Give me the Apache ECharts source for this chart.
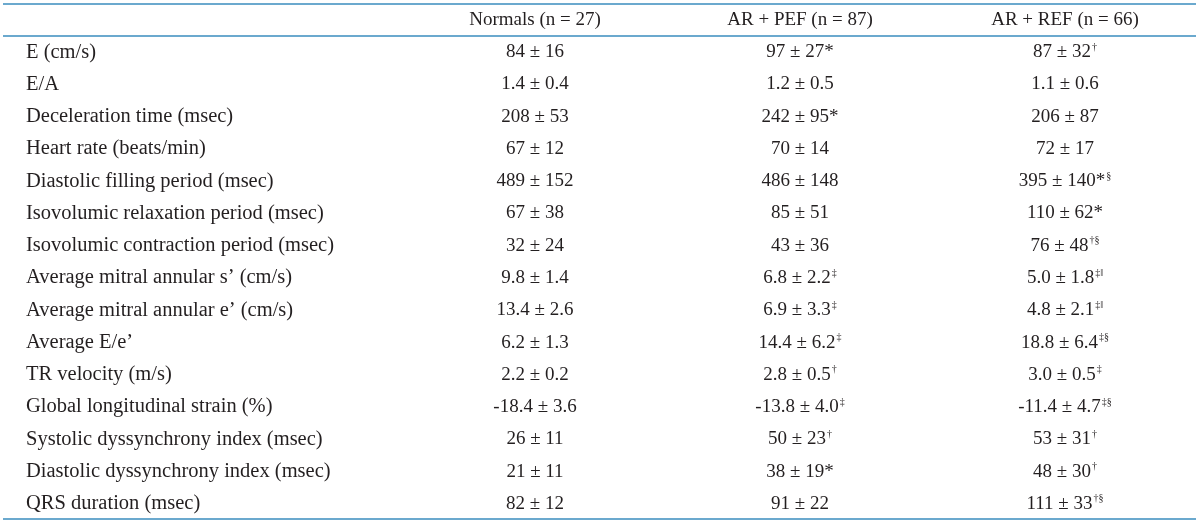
<!DOCTYPE html>
<html>
<head>
<meta charset="utf-8">
<script src="https://cdn.jsdelivr.net/npm/echarts@6/dist/echarts.min.js"></script>
<style>
html,body{margin:0;padding:0;background:#fff;}
#chart{width:1200px;height:526px;}
</style>
</head>
<body>
<div id="chart"></div>
<script>
const headers = ['Normals (n = 27)', 'AR + PEF (n = 87)', 'AR + REF (n = 66)'];
const rowLabels = [
  'E (cm/s)',
  'E/A',
  'Deceleration time (msec)',
  'Heart rate (beats/min)',
  'Diastolic filling period (msec)',
  'Isovolumic relaxation period (msec)',
  'Isovolumic contraction period (msec)',
  'Average mitral annular s\u2019 (cm/s)',
  'Average mitral annular e\u2019 (cm/s)',
  'Average E/e\u2019',
  'TR velocity (m/s)',
  'Global longitudinal strain (%)',
  'Systolic dyssynchrony index (msec)',
  'Diastolic dyssynchrony index (msec)',
  'QRS duration (msec)'
];
const decimals   = [0, 1, 0, 0, 0, 0, 0, 1, 1, 1, 1, 1, 0, 0, 0];
const normalsMean = [84, 1.4, 208, 67, 489, 67, 32, 9.8, 13.4, 6.2, 2.2, -18.4, 26, 21, 82];
const normalsSD   = [16, 0.4, 53, 12, 152, 38, 24, 1.4, 2.6, 1.3, 0.2, 3.6, 11, 11, 12];
const normalsMark = ['', '', '', '', '', '', '', '', '', '', '', '', '', '', ''];
const pefMean = [97, 1.2, 242, 70, 486, 85, 43, 6.8, 6.9, 14.4, 2.8, -13.8, 50, 38, 91];
const pefSD   = [27, 0.5, 95, 14, 148, 51, 36, 2.2, 3.3, 6.2, 0.5, 4.0, 23, 19, 22];
const pefMark = ['*', '', '*', '', '', '', '', '\u2021', '\u2021', '\u2021', '\u2020', '\u2021', '\u2020', '*', ''];
const refMean = [87, 1.1, 206, 72, 395, 110, 76, 5.0, 4.8, 18.8, 3.0, -11.4, 53, 48, 111];
const refSD   = [32, 0.6, 87, 17, 140, 62, 48, 1.8, 2.1, 6.4, 0.5, 4.7, 31, 30, 33];
const refMark = ['\u2020', '', '', '', '*\u00a7', '*', '\u2020\u00a7', '\u2021\u2016', '\u2021\u2016', '\u2021\u00a7', '\u2021', '\u2021\u00a7', '\u2020', '\u2020', '\u2020\u00a7'];

const FONT = '"Liberation Serif", "Times New Roman", serif';
const TEXT = '#231f20';
const RULE = '#3a8dbe';
const FS = 19;

const columns = [
  {mean: normalsMean, sd: normalsSD, mark: normalsMark},
  {mean: pefMean, sd: pefSD, mark: pefMark},
  {mean: refMean, sd: refSD, mark: refMark}
];

function cellText(col, i) {
  const d = decimals[i];
  let main = col.mean[i].toFixed(d) + ' \u00b1 ' + col.sd[i].toFixed(d);
  let mark = col.mark[i];
  let star = '';
  if (mark.charAt(0) === '*') { star = '*'; mark = mark.slice(1); }
  let s = '{m|' + main + star + '}';
  if (mark) s += '{s|' + mark + '}';
  return s;
}

const chart = echarts.init(document.getElementById('chart'), null, {renderer: 'canvas'});
const option = {
  animation: false,
  backgroundColor: '#fff',
  grid: {left: 402.5, right: 2.5, top: 36, bottom: 6, containLabel: false},
  xAxis: {
    type: 'category',
    position: 'top',
    data: headers,
    axisLine: {show: false},
    axisTick: {show: false},
    splitLine: {show: false},
    axisLabel: {
      show: true, interval: 0, margin: 16, verticalAlign: 'middle',
      fontFamily: FONT, fontSize: FS, color: TEXT
    }
  },
  yAxis: {
    type: 'category',
    inverse: true,
    data: rowLabels,
    axisLine: {show: false},
    axisTick: {show: false},
    splitLine: {show: false},
    axisLabel: {
      show: true, interval: 0, align: 'left', margin: 376.5,
      fontFamily: FONT, fontSize: 20.5, color: TEXT
    }
  },
  graphic: [
    {type: 'line', shape: {x1: 3, y1: 4, x2: 1196, y2: 4}, style: {stroke: RULE, lineWidth: 1.5}, silent: true},
    {type: 'line', shape: {x1: 3, y1: 36, x2: 1196, y2: 36}, style: {stroke: RULE, lineWidth: 1.5}, silent: true},
    {type: 'line', shape: {x1: 3, y1: 519, x2: 1196, y2: 519}, style: {stroke: RULE, lineWidth: 1.5}, silent: true}
  ],
  series: columns.map((col, c) => ({
    type: 'scatter',
    silent: true,
    symbolSize: 1,
    itemStyle: {color: 'rgba(0,0,0,0)', opacity: 1},
    data: rowLabels.map((_, i) => [c, i]),
    label: {
      show: true,
      position: 'inside',
      color: TEXT,
      opacity: 1,
      textBorderWidth: 0,
      textBorderColor: 'transparent',
      formatter: p => cellText(col, p.dataIndex),
      rich: {
        m: {fontFamily: FONT, fontSize: FS, color: TEXT, lineHeight: 20, textBorderWidth: 0},
        s: {fontFamily: FONT, fontSize: 10, color: TEXT, verticalAlign: 'top', lineHeight: 20, padding: [0, 0, 0, 1], textBorderWidth: 0}
      }
    }
  }))
};
chart.setOption(option);
</script>
</body>
</html>
